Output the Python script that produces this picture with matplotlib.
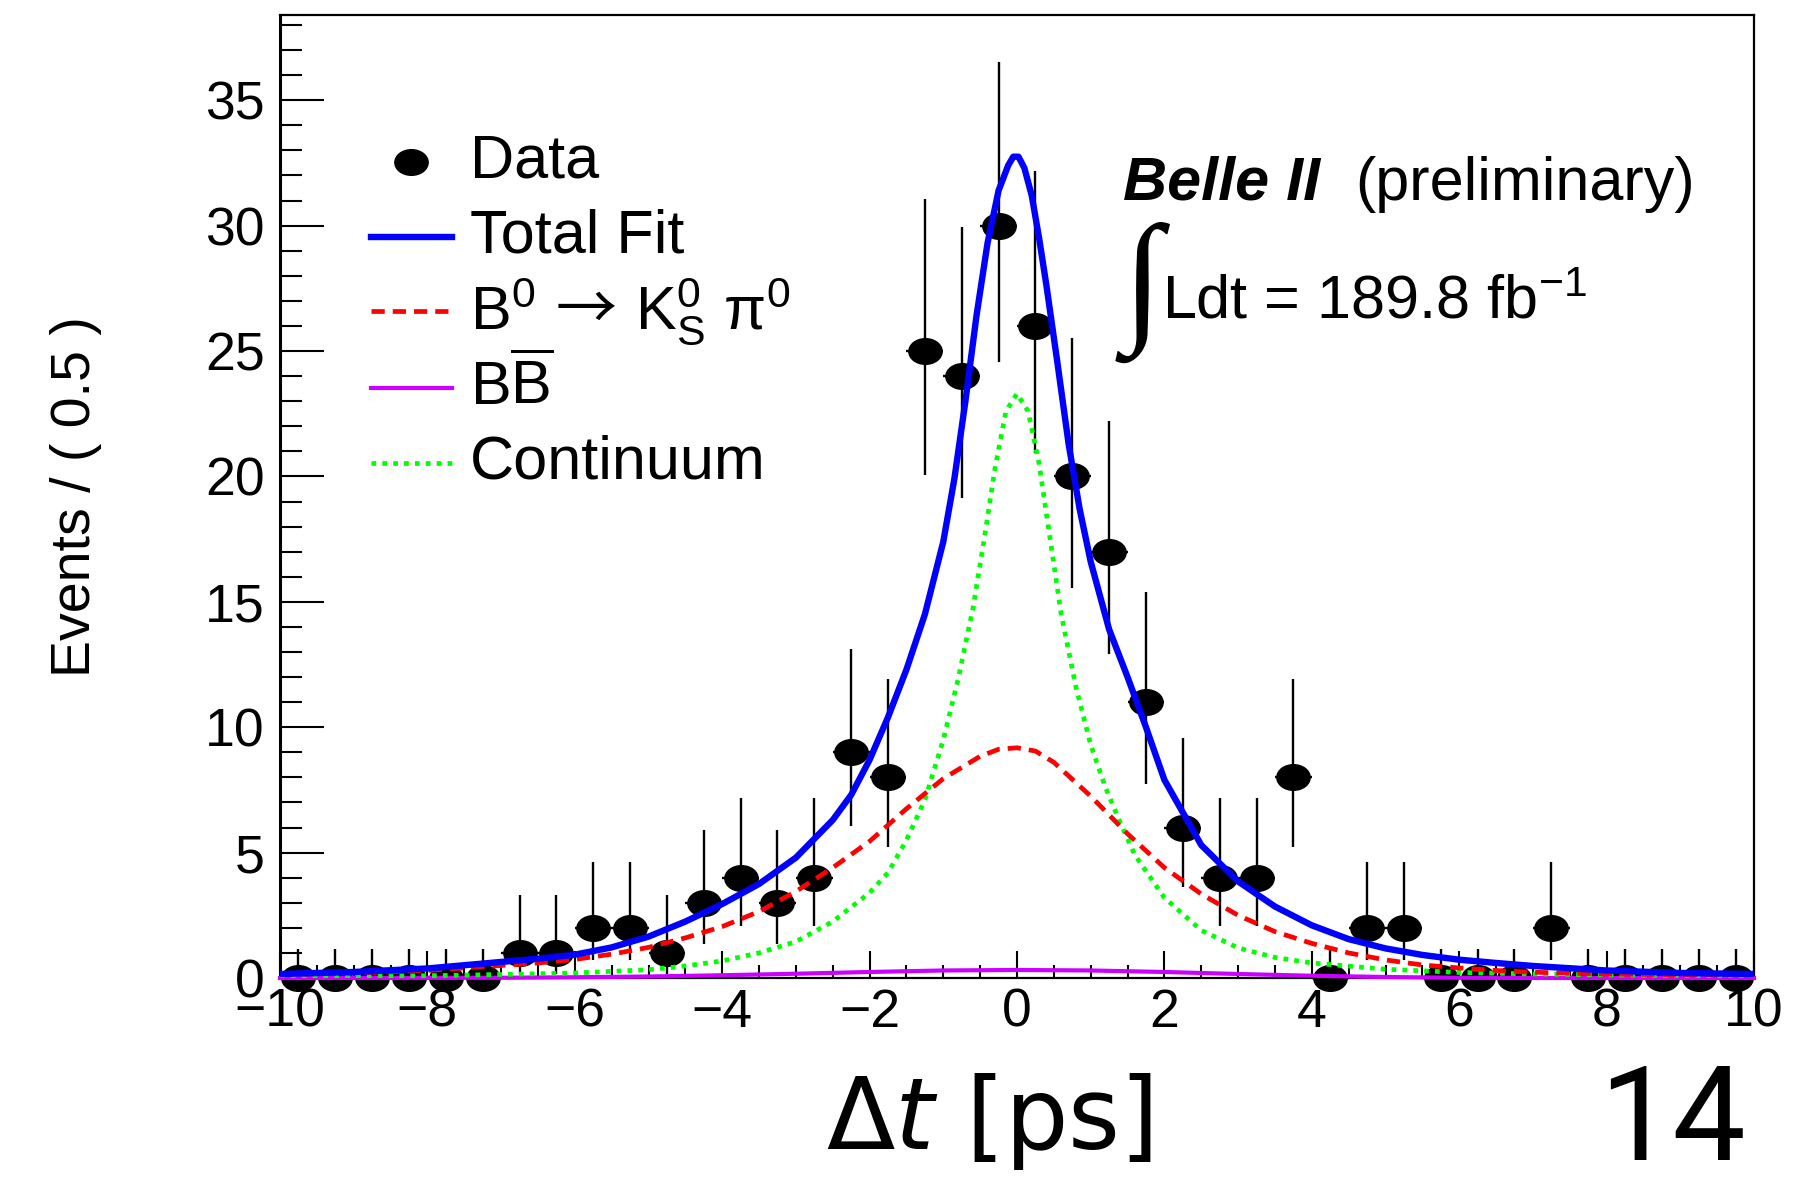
"""Belle II  B0 -> KS pi0 : Delta t distribution with fit projection (ROOT-style)."""
import numpy as np
import matplotlib; matplotlib.use("Agg")
import matplotlib.pyplot as plt
from matplotlib.path import Path
from matplotlib.ticker import MultipleLocator
from matplotlib.transforms import Affine2D

plt.rcParams.update({
    "font.family": ["Liberation Sans", "DejaVu Sans"],
    "mathtext.fontset": "custom",
    "mathtext.rm": "Liberation Sans",
    "mathtext.it": "Liberation Sans:italic",
    "mathtext.bf": "Liberation Sans:bold",
    "mathtext.sf": "Noto Sans CJK JP",      # only used for the long arrow
    "axes.unicode_minus": True,
})

# --- data: 0.5 ps bins from -10 to 10 ---------------------------------------
BIN_LO, BIN_HI, BIN_W = -10.0, 10.0, 0.5
counts = [0, 0, 0, 0, 0, 0, 1, 1, 2, 2, 1, 3, 4, 3, 4, 9, 8, 25, 24, 30,
          26, 20, 17, 11, 6, 4, 4, 8, 0, 2, 2, 0, 0, 0, 2, 0, 0, 0, 0, 0]
# ends of the (asymmetric, Poisson) error bars
err_lo_end = [0, 0, 0, 0, 0, 0, 0.17, 0.17, 0.71, 0.71, 0.17, 1.37, 2.09, 1.37, 2.09,
              6.06, 5.24, 20.04, 19.14, 24.56, 20.94, 15.57, 12.92, 7.74, 3.62, 2.09,
              2.09, 5.24, 0, 0.71, 0.71, 0, 0, 0, 0.71, 0, 0, 0, 0, 0]
err_hi_end = [1.15, 1.15, 1.15, 1.15, 1.15, 1.15, 3.30, 3.30, 4.64, 4.64, 3.30, 5.92,
              7.16, 5.92, 7.16, 13.10, 11.94, 31.06, 29.96, 36.54, 32.16, 25.54, 22.2,
              15.41, 9.58, 7.16, 7.16, 11.94, 1.15, 4.64, 4.64, 1.15, 1.15, 1.15, 4.64,
              1.15, 1.15, 1.15, 1.15, 1.15]

# --- fit curves --------------------------------------------------------------
tot_x = [-10, -9, -8, -7, -6.5, -6, -5.5, -5, -4.5, -4, -3.5, -3, -2.5, -2.25, -2, -1.75,
         -1.5, -1.25, -1, -0.85, -0.7, -0.55, -0.4, -0.25, -0.12, -0.05, 0.02, 0.1, 0.2,
         0.3, 0.4, 0.55, 0.7, 0.85, 1, 1.25, 1.5, 1.75, 2, 2.5, 3, 3.5, 4, 4.5, 5, 5.5,
         6, 6.5, 7, 8, 9, 10]
tot_y = [0.16, 0.24, 0.38, 0.64, 0.77, 0.93, 1.22, 1.65, 2.25, 2.95, 3.75, 4.8, 6.3, 7.3,
         8.7, 10.4, 12.3, 14.5, 17.4, 19.9, 23.0, 26.4, 29.3, 31.4, 32.4, 32.75, 32.75,
         32.3, 31.2, 29.5, 27.6, 24.5, 21.3, 18.7, 16.6, 13.9, 12.0, 10.0, 7.9, 5.3,
         3.85, 2.85, 2.1, 1.55, 1.18, 0.92, 0.73, 0.6, 0.48, 0.3, 0.2, 0.16]

sig_x = [-10, -9, -8, -7, -6.5, -6, -5.5, -5, -4.5, -4, -3.5, -3, -2.5, -2, -1.5, -1,
         -0.5, -0.25, 0, 0.25, 0.5, 1, 1.5, 2, 2.5, 3, 3.5, 4, 4.5, 5, 5.5, 6, 6.5, 7,
         8, 9, 10]
sig_y = [0.13, 0.2, 0.3, 0.5, 0.6, 0.74, 0.95, 1.22, 1.6, 2.05, 2.65, 3.45, 4.4, 5.45,
         6.75, 7.95, 8.84, 9.12, 9.18, 9.05, 8.6, 7.25, 5.75, 4.4, 3.35, 2.5, 1.85,
         1.38, 1.0, 0.72, 0.52, 0.4, 0.3, 0.23, 0.16, 0.13, 0.12]

bb_x = [-10, -7, -6, -5, -4, -3, -2, -1, 0, 1, 2, 3, 4, 5, 6, 7, 10]
bb_y = [0.0, 0.01, 0.03, 0.06, 0.11, 0.17, 0.24, 0.3, 0.32, 0.3, 0.24, 0.16, 0.09,
        0.04, 0.01, 0.0, 0.0]

cont_x = [-10, -9, -8, -7, -6, -5, -4.5, -4, -3.5, -3, -2.5, -2, -1.75, -1.5, -1.25, -1,
          -0.8, -0.6, -0.45, -0.3, -0.15, 0, 0.15, 0.3, 0.45, 0.6, 0.8, 1, 1.2, 1.4,
          1.6, 2, 2.5, 3, 3.5, 4, 5, 6, 7, 8, 9, 10]
cont_y = [0.06, 0.07, 0.09, 0.14, 0.2, 0.33, 0.48, 0.68, 1.0, 1.45, 2.25, 3.4, 4.2, 5.5,
          7.1, 9.5, 11.9, 14.7, 17.4, 20.3, 22.6, 23.3, 22.6, 20.5, 17.5, 14.5, 11.6,
          9.3, 7.6, 6.2, 4.9, 3.2, 1.9, 1.2, 0.82, 0.6, 0.35, 0.22, 0.16, 0.12, 0.1, 0.09]

BLUE, RED, MAG, GREEN = "#0000ff", "#ff0000", "#cc00ff", "#00ff00"
LW_TOT, LW_SIG, LW_BB, LW_CONT = 4.6, 3.4, 3.0, 3.4
SIG_DASH, CONT_DASH = (2.8, 1.7), (1.0, 1.3)
TXT = 44

# elliptical marker (the original is stretched horizontally)
ELL = Path.unit_circle().transformed(Affine2D().scale(1.3, 1.0))

xc = np.arange(BIN_LO + BIN_W / 2, BIN_HI, BIN_W)
n = np.array(counts, float)
yerr = [n - np.array(err_lo_end), np.array(err_hi_end) - n]

fig = plt.figure(figsize=(18.19, 11.77), dpi=100)
ax = fig.add_axes([280 / 1819, 1 - 978 / 1177, 1474 / 1819, 963 / 1177])

ax.errorbar(xc, n, xerr=BIN_W / 2, yerr=yerr, fmt="none", ecolor="black",
            elinewidth=1.7, capsize=0, zorder=2, clip_on=False)
ax.plot(xc, n, ls="none", marker=ELL, ms=24, color="black", zorder=2, clip_on=False)

ax.plot(bb_x, bb_y, color=MAG, lw=LW_BB, zorder=3, clip_on=False)
ax.plot(cont_x, cont_y, color=GREEN, lw=LW_CONT, dashes=CONT_DASH, zorder=3)
ax.plot(sig_x, sig_y, color=RED, lw=LW_SIG, dashes=SIG_DASH, zorder=3)
ax.plot(tot_x, tot_y, color=BLUE, lw=LW_TOT, zorder=4, solid_joinstyle="round")

ax.set_xlim(BIN_LO, BIN_HI)
ax.set_ylim(0, 38.4)
ax.xaxis.set_major_locator(MultipleLocator(2))
ax.xaxis.set_minor_locator(MultipleLocator(0.5))
ax.yaxis.set_major_locator(MultipleLocator(5))
ax.yaxis.set_minor_locator(MultipleLocator(1))
ax.tick_params(which="both", direction="in", top=False, right=False, width=1.5,
               labelsize=38.5, colors="black")
ax.tick_params(axis="y", which="major", length=32, pad=11)
ax.tick_params(axis="y", which="minor", length=16)
ax.tick_params(axis="x", which="major", length=19.5, pad=7)
ax.tick_params(axis="x", which="minor", length=9.5)
for s in ax.spines.values():
    s.set_linewidth(1.6)
ax.spines["left"].set_linewidth(2.2)

ax.set_ylabel("Events / ( 0.5 )", fontsize=40)
ax.yaxis.set_label_coords(-0.121, 0.5)

# legend, drawn by hand (ROOT layout)
LX0, LX1, LTX = 0.0617, 0.1167, 0.1289
rows = [0.847, 0.769, 0.693, 0.613, 0.535]
ax.plot([(LX0 + LX1) / 2], [rows[0]], ls="none", marker=ELL, ms=24, color="black",
        transform=ax.transAxes)
ax.plot([LX0, LX1], [rows[1]] * 2, color=BLUE, lw=LW_TOT, transform=ax.transAxes)
ax.plot([LX0, LX1], [rows[2]] * 2, color=RED, lw=LW_SIG, dashes=SIG_DASH,
        transform=ax.transAxes)
ax.plot([LX0, LX1], [rows[3]] * 2, color=MAG, lw=LW_BB, transform=ax.transAxes)
ax.plot([LX0, LX1], [rows[4]] * 2, color=GREEN, lw=LW_CONT, dashes=CONT_DASH,
        transform=ax.transAxes)
labels = ["Data", "Total Fit",
          r"B$^{0}\,\mathsf{\rightarrow}\,$K$^{0}_{\mathrm{S}}$ $\mathrm{\pi}^{0}$",
          r"B$\overline{\mathrm{B}}$", "Continuum"]
for y, lab in zip(rows, labels):
    ax.text(LTX, y, lab, transform=ax.transAxes, fontsize=TXT, va="center", ha="left")

# experiment label
ax.text(0.5719, 0.808, "Belle II", transform=ax.transAxes, fontsize=TXT,
        fontweight="bold", style="italic", va="baseline")
ax.text(0.7293, 0.808, "(preliminary)", transform=ax.transAxes, fontsize=TXT,
        va="baseline")
ax.text(0.5715, 0.6786, "\u222b", transform=ax.transAxes, fontsize=104,
        family=["Liberation Serif", "DejaVu Sans"], va="baseline")
ax.text(0.5984, 0.685, r"Ldt = 189.8 fb$^{\mathregular{-1}}$", transform=ax.transAxes,
        fontsize=TXT, va="baseline")

# slide decorations below the plot
fig.text(0.5437, 0.0238, r"$\Delta t$ [ps]", family="DejaVu Sans",
         math_fontfamily="dejavusans", fontsize=72, ha="center", va="baseline")
fig.text(0.960, 0.0144, "14", family="Roboto", fontsize=94, ha="right",
         va="baseline")

fig.savefig("out.png", dpi=100, facecolor="white")
plt.close(fig)
